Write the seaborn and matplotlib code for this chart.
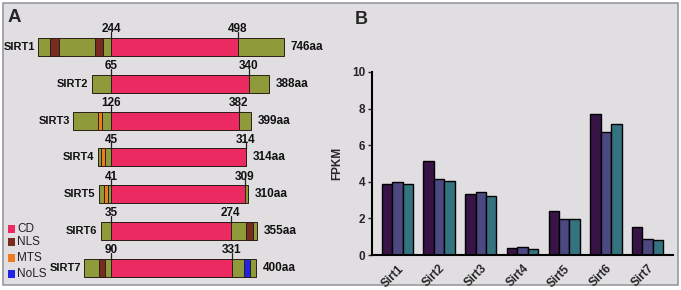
# -*- coding: utf-8 -*-
# sirtuin domain schematic (A) + FPKM grouped bars (B)

import numpy as np
import pandas as pd
import matplotlib
matplotlib.use("Agg")
import matplotlib.pyplot as plt
from matplotlib.patches import Rectangle
import seaborn as sns

sns.set_style("white")
plt.rcParams["font.family"] = ["Liberation Sans", "DejaVu Sans"]

# ---------------- data: panel A ----------------
proteins = ["SIRT1", "SIRT2", "SIRT3", "SIRT4", "SIRT5", "SIRT6", "SIRT7"]
cd_start = [244, 65, 126, 45, 41, 35, 90]
cd_end = [498, 340, 382, 314, 309, 274, 331]
length = [746, 388, 399, 314, 310, 355, 400]
# extra domains: (protein index, start aa, end aa)
nls = [(0, 42, 70), (0, 192, 216), (5, 321, 345), (6, 51, 69)]
mts = [(2, 81, 97), (3, 10, 24), (4, 16, 31)]
nols = [(6, 367, 385)]

legend_labels = ["CD", "NLS", "MTS", "NoLS"]

# ---------------- data: panel B ----------------
genes = ["Sirt1", "Sirt2", "Sirt3", "Sirt4", "Sirt5", "Sirt6", "Sirt7"]
fpkm_s1 = [3.86, 5.15, 3.31, 0.36, 2.42, 7.73, 1.51]
fpkm_s2 = [3.98, 4.15, 3.46, 0.42, 1.96, 6.71, 0.87]
fpkm_s3 = [3.90, 4.05, 3.22, 0.33, 1.95, 7.15, 0.82]

# colours
BG = "#e1dee2"
OLIVE = "#8f9a3a"
C_CD = "#ec2a62"
C_NLS = "#7a2b20"
C_MTS = "#f07a1e"
C_NOLS = "#2323e6"
BAR_COLS = ["#3b0a4f", "#433f8b", "#287c8c"]

W, H = 681, 290
fig = plt.figure(figsize=(W / 100, H / 100), dpi=100)
fig.patch.set_facecolor("white")

# full-figure axes in pixel units for frame + panel A
ax = fig.add_axes([0, 0, 1, 1])
ax.set_xlim(0, W)
ax.set_ylim(H, 0)
ax.axis("off")
ax.add_patch(Rectangle((3, 3), 675, 282, facecolor=BG, edgecolor="#9a989c", lw=1.2))

CD_X = 111
ROW0, ROW_STEP, BAR_H = 47, 36.8, 18


def aa_to_x(i, aa):
    """schematic (not to scale) mapping of residue -> x pixel"""
    s, e, L = cd_start[i], cd_end[i], length[i]
    x_left = CD_X - 0.3 * s
    x_cd1 = CD_X + 0.5 * (e - s)
    x_right = x_cd1 + 2.9 * np.sqrt(max(L - e, 0))
    return np.interp(aa, [0, s, e, L], [x_left, CD_X, x_cd1, x_right])


def seg(i, a0, a1, color):
    yc = ROW0 + i * ROW_STEP
    x0, x1 = aa_to_x(i, a0), aa_to_x(i, a1)
    ax.add_patch(Rectangle((x0, yc - BAR_H / 2), x1 - x0, BAR_H,
                           facecolor=color, edgecolor="#2a1e18", lw=0.7, zorder=2))


for i, name in enumerate(proteins):
    yc = ROW0 + i * ROW_STEP
    seg(i, 0, length[i], OLIVE)
    seg(i, cd_start[i], cd_end[i], C_CD)
    top = yc - BAR_H / 2
    for aa in (cd_start[i], cd_end[i]):
        x = aa_to_x(i, aa)
        ax.plot([x, x], [top - 6, top + 1], color="#222", lw=0.9, zorder=3)
        ax.text(x, top - 2.5, str(aa), ha="center", va="bottom",
                fontsize=8.5, fontweight="bold", color="#111")
    ax.text(aa_to_x(i, 0) - 3, yc, name, ha="right", va="center",
            fontsize=8, fontweight="bold", color="#111")
    ax.text(aa_to_x(i, length[i]) + 7, yc, f"{length[i]}aa", ha="left", va="center",
            fontsize=8.5, fontweight="bold", color="#111")

for lst, col in ((nls, C_NLS), (mts, C_MTS), (nols, C_NOLS)):
    for i, a0, a1 in lst:
        seg(i, a0, a1, col)

# legend
for k, (lab, col) in enumerate(zip(legend_labels, [C_CD, C_NLS, C_MTS, C_NOLS])):
    y = [229, 242, 258, 274][k]
    ax.add_patch(Rectangle((8, y - 4), 7, 8, facecolor=col, edgecolor="none"))
    ax.text(17, y, lab, ha="left", va="center", fontsize=8.5, color="#222")

ax.text(8, 18, "A", ha="left", va="center", fontsize=13.5, fontweight="bold")
ax.text(355, 19, "B", ha="left", va="center", fontsize=13, fontweight="bold")

# ---------------- panel B ----------------
df = pd.DataFrame({
    "gene": genes * 3,
    "sample": ["s1"] * 7 + ["s2"] * 7 + ["s3"] * 7,
    "fpkm": fpkm_s1 + fpkm_s2 + fpkm_s3,
})
axb = fig.add_axes([372 / W, (H - 255) / H, 301 / W, (255 - 72) / H])
axb.set_facecolor("none")
sns.barplot(data=df, x="gene", y="fpkm", hue="sample", palette=BAR_COLS,
            width=0.75, edgecolor="black", linewidth=1.0, ax=axb, legend=False)
axb.set_xlim(-0.61, 6.61)
axb.set_ylim(0, 10)
axb.set_yticks([0, 2, 4, 6, 8, 10])
axb.set_ylabel("FPKM", fontsize=8.5, fontweight="bold", labelpad=6)
axb.set_xlabel("")
for sp in ("top", "right"):
    axb.spines[sp].set_visible(False)
for sp in ("left", "bottom"):
    axb.spines[sp].set_color("black")
    axb.spines[sp].set_linewidth(1.5)
axb.tick_params(axis="y", left=True, length=3, width=1, pad=2, labelsize=8.5)
axb.tick_params(axis="x", bottom=False, pad=2, labelsize=8.5)
for t in axb.get_yticklabels():
    t.set_fontweight("bold")
for t in axb.get_xticklabels():
    t.set_fontweight("bold")
    t.set_rotation(45)
    t.set_ha("right")
    t.set_rotation_mode("anchor")

fig.savefig("out.png", dpi=100, facecolor="white")
